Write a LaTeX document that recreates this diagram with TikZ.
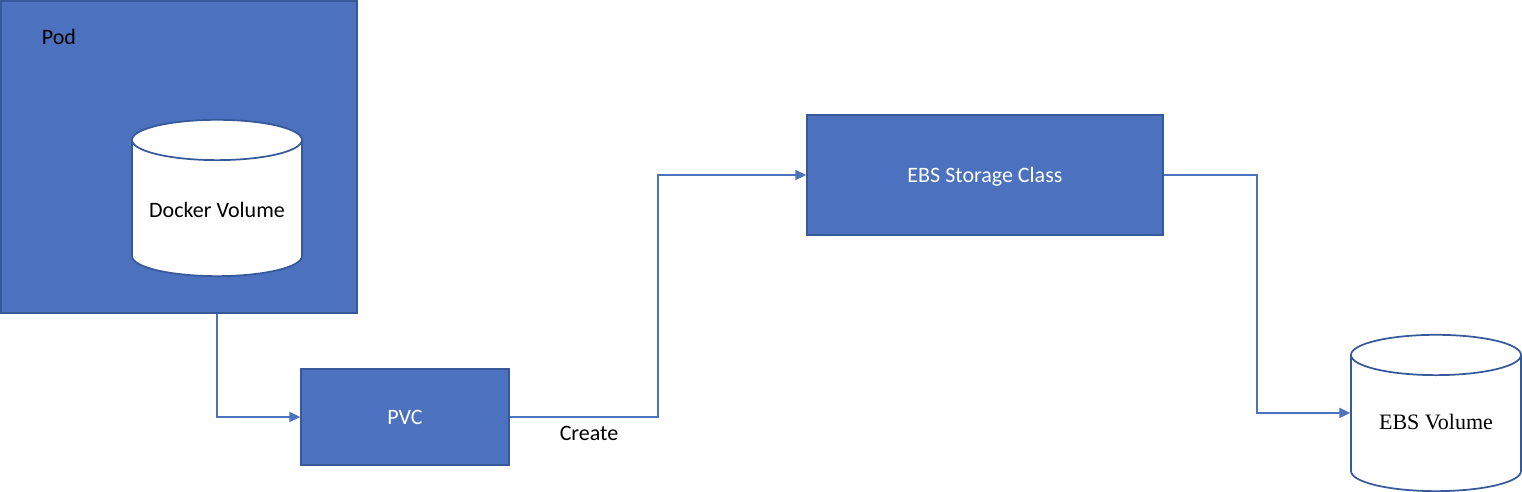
\documentclass[tikz,border=0pt]{standalone}
\usepackage{fontspec}
\setmainfont{Carlito}
\newfontfamily\serifface{Liberation Serif}
\usetikzlibrary{positioning, shapes.geometric, arrows.meta, backgrounds}
\definecolor{boxfill}{HTML}{4C71BE}
\definecolor{boxline}{HTML}{365A99}

\begin{document}
\begin{tikzpicture}[
    x=0.75pt, y=-0.75pt, on grid,
    box/.style={rectangle, draw=boxline, fill=boxfill, line width=1.3pt, text=white, font=\fontsize{16.5}{18}\selectfont, text depth=0pt, inner sep=0pt},
    drum/.style={cylinder, shape border rotate=90, shape aspect=0.28, draw=boxline, fill=white, line width=1.3pt, minimum width=127.5pt, minimum height=117.25pt, inner sep=2pt, text width=104pt, align=flush center, text height=11.5pt, text depth=2pt, font=\fontsize{16.5}{18}\selectfont},
    tag/.style={inner sep=0pt, font=\fontsize{16.5}{18}\selectfont},
    link/.style={-{Triangle[length=8pt, width=7.5pt]}, draw=boxfill, line width=1.3pt},
]
    \useasboundingbox (0,0) rectangle (1522,492);

    % Nodes
    \node[box, minimum width=267pt, minimum height=234pt] (Pod) at (179,157) {};
    \node[tag] (Podt) [above left=90pt and 90pt of Pod] {Pod};
    \node[drum] (Dock) [below right=40.5pt and 28.5pt of Pod] {Docker Volume};

    \node[box, minimum width=156pt, minimum height=72pt] (Pvc) [below right=195pt and 169.5pt of Pod] {PVC};
    \node[tag] (Crea) [below right=12pt and 138pt of Pvc] {Create};

    \node[box, minimum width=267pt, minimum height=90pt] (Stor) [above right=181.5pt and 435pt of Pvc] {EBS Storage Class};

    \node[drum, text depth=6pt, font=\serifface\fontsize{16.5}{18}\selectfont] (Vol) [below right=188.25pt and 338.25pt of Stor] {EBS Volume};

    % Lines
    \begin{scope}[on background layer]
        \draw[link] (Dock.south) |- (Pvc.west);
    \end{scope}
    \draw[link] (Pvc.east) -- ++(148,0) |- (Stor.west);
    \draw[link] (Stor.east) -- ++(93,0) |- (Vol.west |- Vol.shape center);
\end{tikzpicture}
\end{document}
